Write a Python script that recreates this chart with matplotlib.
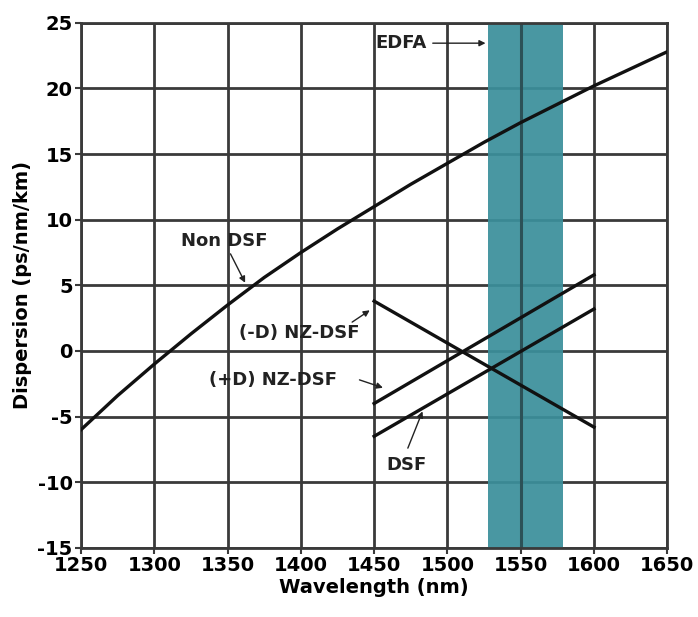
import numpy as np
import matplotlib
matplotlib.use('Agg')
import matplotlib.pyplot as plt

plt.rcParams['axes.unicode_minus'] = False
plt.rcParams['font.family'] = 'DejaVu Sans'
plt.rcParams['font.weight'] = 'bold'

# Non DSF curve
wl_non = [1250, 1275, 1300, 1325, 1350, 1375, 1400, 1425, 1450,
          1475, 1500, 1525, 1550, 1575, 1600, 1625, 1650]
d_non = [-6.0, -3.4, -1.0, 1.3, 3.5, 5.6, 7.5, 9.3, 11.0,
         12.7, 14.3, 15.9, 17.4, 18.8, 20.2, 21.5, 22.8]

# straight fibres, end points only
wl_nz = [1450, 1600]
d_minus_nz = [3.8, -5.8]
d_plus_nz = [-4.0, 5.8]
d_dsf = [-6.5, 3.2]

edfa_band = (1528, 1579)

xticks = np.arange(1250, 1651, 50)
yticks = np.arange(-15, 26, 5)

fig = plt.figure(figsize=(6.98, 6.17), dpi=100)
ax = fig.add_axes([0.116, 0.112, 0.84, 0.851])

ax.set_xlim(1250, 1650)
ax.set_ylim(-15, 25)
ax.set_xticks(xticks)
ax.set_yticks(yticks)
ax.grid(True, color='#3a3a3a', lw=2.0, zorder=0)
ax.set_axisbelow(True)
for s in ax.spines.values():
    s.set_color('#3a3a3a')
    s.set_linewidth(2.0)
ax.tick_params(length=4, width=1.5, color='#3a3a3a', labelsize=14, pad=2)

ax.axvspan(edfa_band[0], edfa_band[1], color='#3b8f9b', alpha=0.93, lw=0, zorder=1)
ax.axvline(1550, color='#2c5157', lw=2.2, zorder=1.5)

lk = dict(color='#111111', lw=2.4, zorder=3)
ax.plot(wl_non, d_non, **lk)
ax.plot(wl_nz, d_minus_nz, **lk)
ax.plot(wl_nz, d_plus_nz, **lk)
ax.plot(wl_nz, d_dsf, **lk)

ap = dict(arrowstyle='-|>', color='#222222', lw=1.0, mutation_scale=9,
          shrinkA=0, shrinkB=0)
tk = dict(fontsize=13, fontweight='bold', ha='center', va='center', color='#222222', zorder=4)

ax.text(1348, 8.4, 'Non DSF', **tk)
ax.annotate('', xy=(1362, 5.2), xytext=(1352, 7.4), arrowprops=ap, zorder=4)

ax.text(1399, 1.4, '(-D) NZ-DSF', **tk)
ax.annotate('', xy=(1447, 3.1), xytext=(1435, 2.2), arrowprops=ap, zorder=4)

ax.text(1381, -2.2, '(+D) NZ-DSF', **tk)
ax.annotate('', xy=(1456, -2.8), xytext=(1440, -2.2), arrowprops=ap, zorder=4)

ax.text(1472, -8.7, 'DSF', **tk)
ax.annotate('', xy=(1483, -4.6), xytext=(1473, -7.4), arrowprops=ap, zorder=4)

ax.text(1468, 23.45, 'EDFA', **tk)
ax.annotate('', xy=(1526, 23.45), xytext=(1490, 23.45), arrowprops=ap, zorder=4)

ax.set_xlabel('Wavelength (nm)', fontsize=14, fontweight='bold', labelpad=2)
ax.set_ylabel('Dispersion (ps/nm/km)', fontsize=14, fontweight='bold', labelpad=4)

fig.savefig('out.png', dpi=100)
